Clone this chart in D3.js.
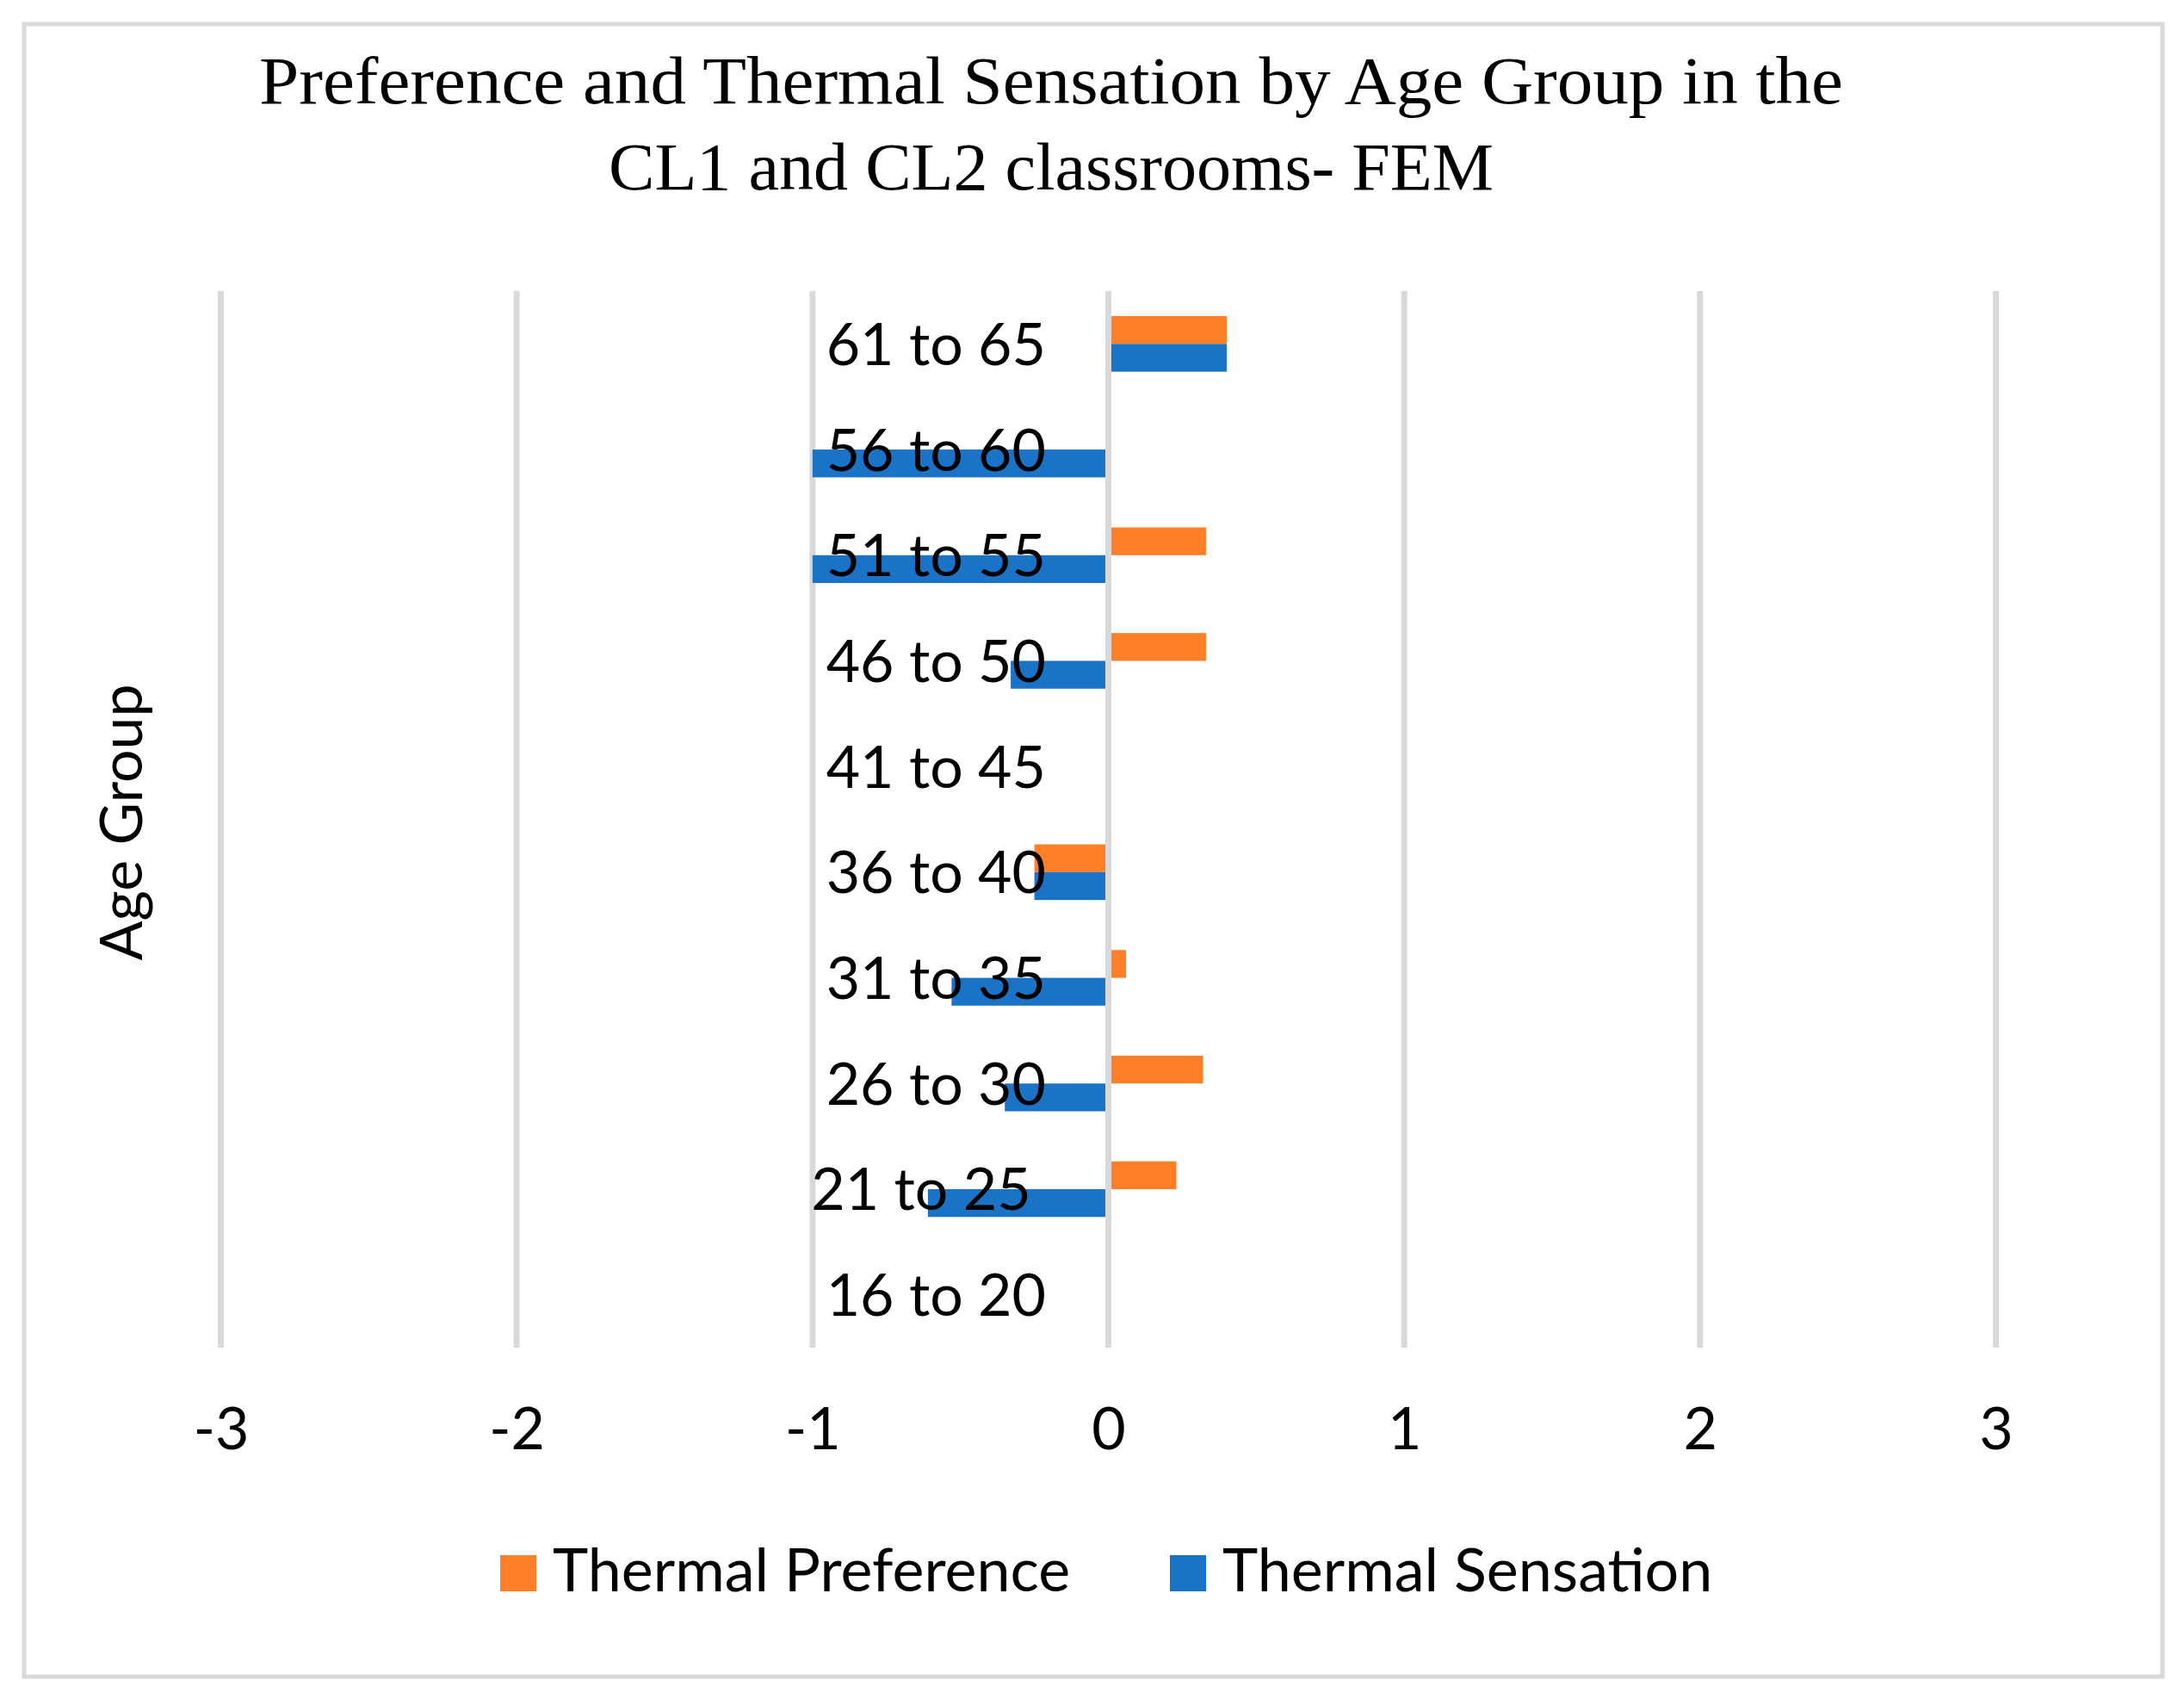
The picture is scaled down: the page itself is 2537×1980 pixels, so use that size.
<!DOCTYPE html>
<html>
<head>
<meta charset="utf-8">
<script src="https://cdn.jsdelivr.net/npm/d3@7/dist/d3.min.js"></script>
<style>
    body { margin: 0; background: #ffffff; }
    text { fill: #000000; }
</style>
</head>
<body>
<div class="chart"></div>
<script>
    "use strict";

    var ageGroups = ["16 to 20", "21 to 25 ", "26 to 30", "31 to 35", "36 to 40",
                     "41 to 45", "46 to 50", "51 to 55", "56 to 60", "61 to 65"];
    var thermalPreference = [0, 0.23, 0.32, 0.06, -0.25, 0, 0.33, 0.33, 0, 0.40];
    var thermalSensation = [0, -0.61, -0.35, -0.53, -0.25, 0, -0.33, -1.0, -1.0, 0.40];
    var xTicks = [-3, -2, -1, 0, 1, 2, 3];
    var seriesNames = ["Thermal Preference", "Thermal Sensation"];
    var seriesColors = ["#ff7f27", "#1a73c6"];
    var titleLines = ["Preference and Thermal Sensation by Age Group in the",
                      "CL1 and CL2 classrooms- FEM"];

    var width = 2537;
    var height = 1980;
    var labelFont = "Lato, 'Open Sans', sans-serif";

    var svg = d3.select(".chart")
                .append("svg")
                .attr("width", width)
                .attr("height", height);

    // outer frame
    svg.append("rect")
        .attr("x", 28)
        .attr("y", 28)
        .attr("width", 2484)
        .attr("height", 1919)
        .attr("fill", "#ffffff")
        .attr("stroke", "#d9d9d9")
        .attr("stroke-width", 5);

    // title, stretched a little to the width of the original serif face
    var titleWidths = [1840, 1028];
    svg.selectAll("text.title")
        .data(titleLines)
        .enter().append("text")
        .attr("class", "title")
        .attr("x", 1221)
        .attr("y", function(d, i) {
            return 120 + i * 100;
        })
        .attr("text-anchor", "middle")
        .style("font-family", "'Liberation Serif', 'DejaVu Serif', serif")
        .style("font-size", "78px")
        .text(function(d) { return d; })
        .each(function(d, i) {
            var w = this.getComputedTextLength();
            if (Math.abs(w - titleWidths[i]) > 4) {
                d3.select(this)
                    .attr("textLength", titleWidths[i])
                    .attr("lengthAdjust", "spacingAndGlyphs");
            }
        });

    var x = d3.scaleLinear()
              .domain([-3, 3])
              .range([256.5, 2318.5]);

    var y = d3.scaleBand()
              .domain(ageGroups.slice().reverse())
              .range([338, 1565]);

    var ySeries = d3.scaleBand()
                    .domain(seriesNames)
                    .range([0, y.bandwidth()])
                    .paddingOuter(0.9);

    // vertical gridlines
    svg.selectAll("line.grid")
        .data(xTicks)
        .enter().append("line")
        .attr("class", "grid")
        .attr("x1", function(d) { return x(d); })
        .attr("x2", function(d) { return x(d); })
        .attr("y1", y.range()[0])
        .attr("y2", y.range()[1])
        .attr("stroke", "#d9d9d9")
        .attr("stroke-width", 7);

    var rows = ageGroups.map(function(g, i) {
        return { group: g, values: [thermalPreference[i], thermalSensation[i]] };
    });

    var groups = svg.selectAll("g.row")
                    .data(rows)
                    .enter().append("g")
                    .attr("class", "row")
                    .attr("transform", function(d) {
                        return "translate(0," + y(d.group) + ")";
                    });

    groups.selectAll("rect")
        .data(function(d) {
            return d.values.map(function(v, k) {
                return { series: seriesNames[k], value: v, color: seriesColors[k] };
            });
        })
        .enter().append("rect")
        .attr("x", function(d) { return Math.min(x(0), x(d.value)); })
        .attr("y", function(d) { return ySeries(d.series); })
        .attr("width", function(d) { return Math.abs(x(d.value) - x(0)); })
        .attr("height", ySeries.bandwidth())
        .attr("fill", function(d) { return d.color; });

    // zero line over the bars
    svg.append("line")
        .attr("x1", x(0))
        .attr("x2", x(0))
        .attr("y1", y.range()[0])
        .attr("y2", y.range()[1])
        .attr("stroke", "#d9d9d9")
        .attr("stroke-width", 7);

    // category labels sit left of the zero line, on top of the bars
    svg.selectAll("text.cat")
        .data(ageGroups)
        .enter().append("text")
        .attr("class", "cat")
        .attr("x", 1215)
        .attr("y", function(d) { return y(d) + y.bandwidth() / 2; })
        .attr("dy", "0.36em")
        .attr("text-anchor", "end")
        .style("white-space", "pre")
        .style("font-family", labelFont)
        .style("font-size", "68px")
        .text(function(d) { return d; });

    // x axis labels (plain hyphen, as in the original)
    var xAxis = d3.axisBottom(x)
                  .tickValues(xTicks)
                  .tickSize(0)
                  .tickPadding(0)
                  .tickFormat(function(d) { return String(d); });

    var xAxisG = svg.append("g")
                    .attr("transform", "translate(0,1683)")
                    .call(xAxis);
    xAxisG.select(".domain").remove();
    xAxisG.selectAll("text")
        .attr("y", 0)
        .attr("dy", 0)
        .style("font-family", labelFont)
        .style("font-size", "68px")
        .attr("fill", "#000000");

    // y axis title
    svg.append("text")
        .attr("transform", "translate(165,955) rotate(-90)")
        .attr("text-anchor", "middle")
        .style("font-family", labelFont)
        .style("font-size", "68px")
        .text("Age Group");

    // legend
    var legendX = [581, 1359];
    var legend = svg.selectAll("g.legend")
                    .data(seriesNames)
                    .enter().append("g")
                    .attr("class", "legend")
                    .attr("transform", function(d, i) {
                        return "translate(" + legendX[i] + ",1806)";
                    });

    legend.append("rect")
        .attr("width", 42)
        .attr("height", 42)
        .attr("fill", function(d, i) { return seriesColors[i]; });

    legend.append("text")
        .attr("x", 61)
        .attr("y", 42)
        .style("font-family", labelFont)
        .style("font-size", "70px")
        .text(function(d) { return d; });
</script>
</body>
</html>
